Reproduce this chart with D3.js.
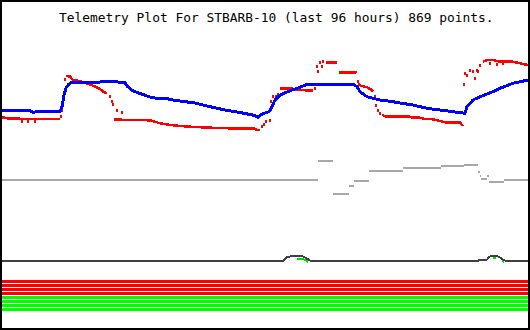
<!DOCTYPE html>
<html>
<head>
<meta charset="utf-8">
<script src="https://cdn.jsdelivr.net/npm/d3@7"></script>
<style>
  html, body { margin: 0; padding: 0; background: #fff; }
  svg { display: block; }
</style>
</head>
<body>
<svg id="chart" width="530" height="330"></svg>
<script>
// ---------------- DATA ----------------
const titleText = "Telemetry Plot For STBARB-10 (last 96 hours) 869 points.";

// x pixel readings converted to hours (0..96) via helper below
// Blue series: [x-reading, value]
const blueSeries = [
  [2,24.3],[30,24.3],[33,22.5],[36,23.3],[60,23.3],[62,28.3],[64,40],[66,47],[69,51],[72,53],
  [100,53],[110,53.5],[125,52.5],[127,49],[133,44],[140,41.5],[150,38],[160,36],[167,36.3],
  [175,34.5],[180,34],[195,32],[210,28.3],[225,25],[240,22.5],[255,19.5],[258,17.5],[262,21],
  [268,23],[270,24],[275,35],[280,40],[290,44.3],[300,47.7],[307,50.7],[330,50.7],[353,50.7],
  [357,48.5],[360,43.3],[367,38.3],[380,35],[393,33.3],[400,32],[413,30],[427,26.7],[440,25],
  [453,23.3],[465,21.7],[467,28.3],[473,35],[480,38.3],[493,43.3],[500,46.7],[513,51.7],[528,55]
];

// Red series: continuous runs
const redRuns = [
  [[2,17.7],[10,16.3],[60,16]],
  [[66,59],[70,58.5],[73,55],[80,54],[87,51.5],[93,49.3],[100,46],[103,43.5],[107,41.7]],
  [[114,15.5],[130,15],[150,14.7],[155,13.3],[160,11.7],[170,10],[180,9],[195,8],[210,7.3],[235,6.5],[255,6.3],[257,5],[260,5]],
  [[280,46.7],[292,46.7],[294,45.7],[300,45],[313,44.3]],
  [[326,72.3],[337,72.3]],
  [[339,62.3],[355,62.3],[357,63.3]],
  [[360,49.5],[367,47.7],[371,45.5],[373,43.3]],
  [[382,20],[387,18.3],[410,18.3],[413,17.3],[420,17.3],[425,16],[433,15.7],[440,14],[447,12.3],[460,12.3],[463,9]],
  [[483,73.3],[487,75],[493,75],[500,73.3],[513,73.3],[520,71.7],[528,70]]
];
// Red scattered readings
const redDots = [
  [22,14],[28,13.5],[35,14],
  [61,18.3],[62,25],[63,33.3],[65,55.7],
  [110,38.3],[112,33.3],[113,31],[117,25],[122,22.3],
  [262,9],[264,11],[266,13.3],[270,14.3],[271,33.3],[273,39],[276,38.3],[278,40.7],
  [315,47],[317,68.3],[318,63.3],[320,72.3],[322,69],[323,73.3],
  [358,53.3],[359,51],
  [375,38.3],[376,30],[378,25],[380,22],
  [464,50.7],[465,61.7],[467,60],[470,65],[473,63.3],[475,56.7],[477,65],[478,63.3],[480,70],
  [490,72],[497,71],[503,71.5]
];

// Gray step series: [x-reading, value] each held until next reading
const graySteps = [
  [2,20.5],[318,39],[333,5.7],[349,14.3],[354,19],[369,29.3],[403,32.3],[441,34],[464,35.3],
  [478,28.3],[480,24.5],[481,20.7],[487,24],[489,18.3],[504,20],[528,20]
];

// Dark series and green overlay
const darkSeries = [
  [2,4],[283,4],[285,6],[287,7.7],[290,8.5],[295,8.7],[303,8.5],[306,7],[309,5],[311,4],
  [478,4],[480,5.5],[487,5.5],[489,8],[491,9.2],[497,9.2],[500,7.5],[503,5.5],[506,4],[528,4]
];
const greenRuns = [
  [[297,7.2],[303,7],[306,5.5],[308,4]],
  [[493,8],[496,8]],
  [[502,5],[504,4]]
];

// Status channels (stripes)
const channels = ["S1","S2","S3","S4","S5","S6","S7","S8"];
const channelStatus = ["alarm","alarm","alarm","alarm","ok","ok","ok","ok"];

// ---------------- CHART ----------------
const W = 530, H = 330;
const svg = d3.select("#chart");

// readings were taken on a 0..526 horizontal grid -> hours
const toHour = x => (x - 2) / 526 * 96;

const xScale = d3.scaleLinear().domain([0, 96]).range([2, 528]);
const yMain = d3.scaleLinear().domain([0, 100]).range([135, 35]);
const yGray = d3.scaleLinear().domain([0, 50]).range([200, 150]);
const yDark = d3.scaleLinear().domain([0, 12]).range([265, 253]);
const yBand = d3.scaleBand().domain(channels).range([280, 311]).paddingInner(0.25).paddingOuter(0);
const statusColor = d3.scaleOrdinal().domain(["alarm","ok"]).range(["#ff0000","#00ff00"]);

svg.append("rect").attr("x",0).attr("y",0).attr("width",W).attr("height",H).attr("fill","#fff");

// stripes
svg.append("g").selectAll("rect").data(channels).join("rect")
  .attr("x", xScale(0)).attr("width", xScale(96) - xScale(0))
  .attr("y", d => yBand(d)).attr("height", yBand.bandwidth())
  .attr("fill", (d,i) => statusColor(channelStatus[i]))
  .attr("shape-rendering","crispEdges");

// gray step segments
const gseg = [];
for (let i = 0; i < graySteps.length - 1; i++) {
  gseg.push({x0: toHour(graySteps[i][0]), x1: toHour(graySteps[i+1][0]), v: graySteps[i][1]});
}
svg.append("g").selectAll("line").data(gseg).join("line")
  .attr("x1", d => xScale(d.x0)).attr("x2", d => xScale(d.x1))
  .attr("y1", d => yGray(d.v)).attr("y2", d => yGray(d.v))
  .attr("stroke", "#a8a8a8").attr("stroke-width", 2)
  .attr("shape-rendering","crispEdges");

// green overlay then dark line
const lineDark = d3.line().x(d => xScale(toHour(d[0]))).y(d => yDark(d[1]));
svg.append("g").selectAll("path").data(greenRuns).join("path")
  .attr("d", lineDark).attr("fill","none").attr("stroke","#00e000").attr("stroke-width",2)
  .attr("transform","translate(0,1)").attr("shape-rendering","crispEdges");
svg.append("path").datum(darkSeries).attr("d", lineDark)
  .attr("fill","none").attr("stroke","#404040").attr("stroke-width",2)
  .attr("shape-rendering","crispEdges");

// red series
const lineMain = d3.line().x(d => xScale(toHour(d[0]))).y(d => yMain(d[1]));
svg.append("g").selectAll("path").data(redRuns).join("path")
  .attr("d", lineMain).attr("fill","none").attr("stroke","#ff0000").attr("stroke-width",2.5)
  .attr("shape-rendering","crispEdges");
svg.append("g").selectAll("rect").data(redDots).join("rect")
  .attr("x", d => xScale(toHour(d[0])) - 1).attr("y", d => yMain(d[1]) - 1.5)
  .attr("width", 2).attr("height", 3).attr("fill", "#ff0000")
  .attr("shape-rendering","crispEdges");

// blue series
svg.append("path").datum(blueSeries).attr("d", lineMain)
  .attr("fill","none").attr("stroke","#0000ff").attr("stroke-width",3)
  .attr("shape-rendering","crispEdges");

// title
svg.append("text").attr("x", 59).attr("y", 22)
  .attr("font-family", "'DejaVu Sans Mono', monospace").attr("font-size", 12.9)
  .attr("fill", "#000").text(titleText);

// border
svg.append("rect").attr("x",1).attr("y",1).attr("width",W-2).attr("height",H-2)
  .attr("fill","none").attr("stroke","#000").attr("stroke-width",2)
  .attr("shape-rendering","crispEdges");
</script>
</body>
</html>
